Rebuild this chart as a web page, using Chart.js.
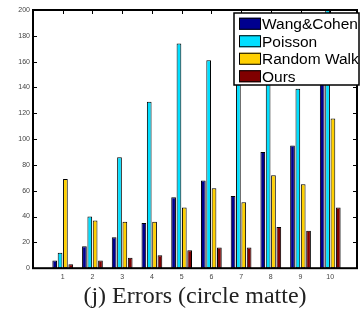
<!DOCTYPE html>
<html>
<head>
<meta charset="utf-8">
<script src="https://cdn.jsdelivr.net/npm/chart.js@4/dist/chart.umd.min.js"></script>
<style>
  html, body { margin: 0; padding: 0; background: #fff; }
  #wrap { width: 361px; height: 312px; }
</style>
</head>
<body>
<div id="wrap"><canvas id="chart" width="361" height="312"></canvas></div>
<script>
'use strict';

// data (hidden bars behind the legend are estimates)
var categories = [1, 2, 3, 4, 5, 6, 7, 8, 9, 10];
var seriesNames = ['Wang&Cohen', 'Poisson', 'Random Walk', 'Ours'];
var wangCohen = [6, 17, 24, 35, 55, 68, 56, 90, 95, 150];
var poisson = [12, 40, 86, 129, 174, 161, 150, 165, 139, 210];
var randomWalk = [69, 37, 36, 36, 47, 62, 51, 72, 65, 116];
var ours = [3, 6, 8, 10, 14, 16, 16, 32, 29, 47];
var yTicks = [0, 20, 40, 60, 80, 100, 120, 140, 160, 180, 200];
var caption = '(j) Errors (circle matte)';

var seriesColors = ['#00008f', '#00dfff', '#ffd000', '#800000'];

var toPoints = function(values) {
  return values.map(function(v, i) { return {x: categories[i], y: v}; });
};

var allSeries = [wangCohen, poisson, randomWalk, ours];
var datasets = [];
for (var s = 0; s < allSeries.length; s++) {
  datasets.push({
    label: seriesNames[s],
    data: toPoints(allSeries[s]),
    backgroundColor: seriesColors[s],
    borderColor: '#000',
    borderWidth: 1,
    borderSkipped: false,
    categoryPercentage: 0.72,
    barPercentage: 0.88
  });
}

// matlab style box with inward ticks
var boxPlugin = {
  id: 'matlabBox',
  afterDatasetsDraw: function(chart) {
    var ctx = chart.ctx;
    var a = chart.chartArea;
    var xs = chart.scales.x;
    var ys = chart.scales.y;
    ctx.save();
    ctx.strokeStyle = '#000';
    ctx.lineWidth = 1;
    ctx.beginPath();
    yTicks.forEach(function(v) {
      var py = Math.round(ys.getPixelForValue(v)) + 0.5;
      ctx.moveTo(a.left, py); ctx.lineTo(a.left + 4, py);
      ctx.moveTo(a.right, py); ctx.lineTo(a.right - 4, py);
    });
    categories.forEach(function(c) {
      var px = Math.round(xs.getPixelForValue(c)) + 0.5;
      ctx.moveTo(px, a.top); ctx.lineTo(px, a.top + 4);
    });
    ctx.stroke();
    ctx.lineWidth = 2;
    ctx.strokeRect(a.left, a.top, a.right - a.left, a.bottom - a.top);
    ctx.restore();
  }
};

// legend drawn inside the axes, top right, like matlab
var insideLegend = {
  id: 'insideLegend',
  afterDraw: function(chart) {
    var ctx = chart.ctx;
    var a = chart.chartArea;
    var w = 125, rowH = 17.5;
    var x0 = a.right - w + 2, y0 = a.top + 3;
    var h = rowH * chart.data.datasets.length + 2;
    ctx.save();
    ctx.fillStyle = '#fff';
    ctx.fillRect(x0, y0, w, h);
    ctx.strokeStyle = '#000';
    ctx.lineWidth = 1.5;
    ctx.strokeRect(x0, y0, w, h);
    ctx.font = '15.5px "Liberation Sans", Arial, sans-serif';
    ctx.textBaseline = 'middle';
    chart.data.datasets.forEach(function(ds, i) {
      var cy = y0 + 2 + rowH * i + rowH / 2;
      ctx.fillStyle = ds.backgroundColor;
      ctx.fillRect(x0 + 5, cy - 6, 22, 12);
      ctx.lineWidth = 1;
      ctx.strokeRect(x0 + 5.5, cy - 5.5, 21, 11);
      ctx.fillStyle = '#000';
      ctx.fillText(ds.label, x0 + 28, cy + 1);
    });
    ctx.restore();
  }
};

var ctx = document.getElementById('chart').getContext('2d');
new Chart(ctx, {
  type: 'bar',
  data: { datasets: datasets },
  plugins: [boxPlugin, insideLegend],
  options: {
    responsive: false,
    animation: false,
    devicePixelRatio: 1,
    layout: { padding: { top: 10, right: 4, left: 0, bottom: 0 } },
    plugins: {
      legend: { display: false },
      tooltip: { enabled: false },
      title: {
        display: true,
        position: 'bottom',
        fullSize: false,
        text: caption,
        color: '#222',
        font: { family: '"Liberation Serif", "Times New Roman", serif', size: 24, weight: 'normal', lineHeight: 1.2 },
        padding: { top: 0, bottom: 1 }
      }
    },
    scales: {
      x: {
        type: 'linear',
        min: 0,
        max: 10.9,
        offset: false,
        grid: { display: false, drawTicks: false },
        border: { display: false },
        afterBuildTicks: function(scale) {
          scale.ticks = categories.map(function(c) { return {value: c}; });
        },
        afterFit: function(scale) { scale.height = 14; },
        ticks: {
          padding: 5,
          color: '#444',
          font: { family: '"Liberation Sans", Arial, sans-serif', size: 7 },
          maxRotation: 0,
          autoSkip: false
        }
      },
      y: {
        min: 0,
        max: 200,
        grid: { display: false, drawTicks: false },
        border: { display: false },
        afterBuildTicks: function(scale) {
          scale.ticks = yTicks.map(function(v) { return {value: v}; });
        },
        afterFit: function(scale) { scale.width = 33; },
        ticks: {
          padding: 3,
          color: '#444',
          font: { family: '"Liberation Sans", Arial, sans-serif', size: 7 }
        }
      }
    }
  }
});
</script>
</body>
</html>
